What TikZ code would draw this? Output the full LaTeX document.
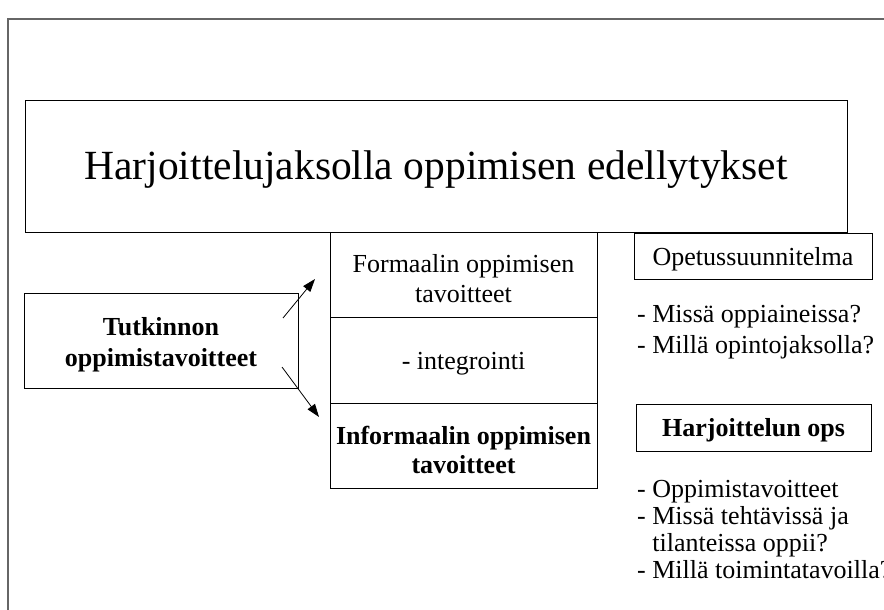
\documentclass[tikz,border=0pt]{standalone}
\usepackage{fontspec}
\setmainfont{Liberation Serif}
\usetikzlibrary{arrows.meta}
\begin{document}
\begin{tikzpicture}[x=1pt,y=-1pt,
  frameline/.style={draw=black!60, line width=1.6pt},
  box/.style={draw=black, line width=0.8pt, inner sep=0pt},
  boxtext/.style={inner sep=0pt, align=center, yshift=-4pt,
    font=\fontsize{26}{30.5}\selectfont},
  listtext/.style={inner sep=0pt, align=left, anchor=north west,
    font=\fontsize{26}{31}\selectfont},
  flow/.style={draw=black, line width=0.8pt,
    -{Triangle[length=13pt,width=9pt]}}]
\useasboundingbox (0,0) rectangle (884,610);
\clip (0,0) rectangle (884,610);
\fill[white] (0,0) rectangle (884,610);

% slide border
\draw[frameline] (8,612) -- (8,19) -- (886,19);

% heading
\node[box, minimum width=822pt, minimum height=132pt] (title) at (436,166) {};
\node[boxtext, font=\fontsize{41.5}{48}\selectfont] (titletext) at (title.center)
  {Harjoittelujaksolla oppimisen edellytykset};

% degree objectives
\node[box, minimum width=274pt, minimum height=95pt] (degree) at (161,340.5) {};
\node[boxtext, font=\fontsize{26}{31}\bfseries] (degreetext) at (degree.center)
  {Tutkinnon\\oppimistavoitteet};

% stacked column: formal / integration / informal
\node[box, minimum width=267pt, minimum height=85pt] (formal) at (463.5,274.5) {};
\node[boxtext] (formaltext) at (formal.center) {Formaalin oppimisen\\tavoitteet};
\node[box, minimum width=267pt, minimum height=86pt] (integ) at (463.5,360) {};
\node[boxtext] (integtext) at (integ.center) {- integrointi};
\node[box, minimum width=267pt, minimum height=85pt] (informal) at (463.5,445.5) {};
\node[boxtext, font=\fontsize{26}{29}\bfseries] (informaltext) at (informal.center)
  {Informaalin oppimisen\\tavoitteet};

% curriculum column
\node[box, minimum width=238pt, minimum height=46pt] (ops) at (753,256) {};
\node[boxtext, yshift=1pt] (opstext) at (ops.center) {Opetussuunnitelma};
\node[listtext] (opslist) at (637,305)
  {- Missä oppiaineissa?\\- Millä opintojaksolla?};

\node[box, minimum width=235pt, minimum height=47pt] (hops) at (753.5,427.5) {};
\node[boxtext, yshift=1pt, font=\fontsize{26}{30}\bfseries] (hopstext) at (hops.center)
  {Harjoittelun ops};
\node[listtext, font=\fontsize{26}{27}\selectfont] (hopslist) at (637,480)
  {- Oppimistavoitteet\\- Missä tehtävissä ja\\\phantom{-}\ tilanteissa oppii?\\- Millä toimintatavoilla?};

% arrows from the degree objectives to the two kinds of goals
\coordinate (up0) at (283,318);
\coordinate (up1) at (315,279);
\coordinate (dn0) at (282,367);
\coordinate (dn1) at (319,417);
\draw[flow] (up0) -- (up1);
\draw[flow] (dn0) -- (dn1);
\end{tikzpicture}
\end{document}
